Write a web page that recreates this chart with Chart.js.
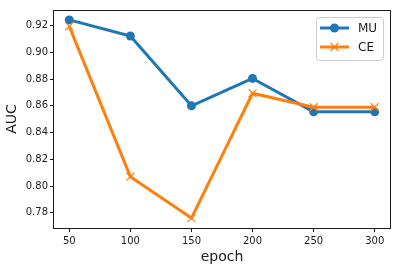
<!DOCTYPE html>
<html>
<head>
<meta charset="utf-8">
<script src="https://cdn.jsdelivr.net/npm/chart.js@4"></script>
<style>
  html, body { margin: 0; padding: 0; background: #fff; }
  #wrap { width: 399px; height: 270px; }
</style>
</head>
<body>
<div id="wrap"><canvas id="aucChart" width="399" height="270"></canvas></div>
<script>
// values
const epochs = [50, 100, 150, 200, 250, 300];
const muAuc = [0.9243, 0.9123, 0.8600, 0.8805, 0.8555, 0.8555];
const ceAuc = [0.9195, 0.8070, 0.7760, 0.8694, 0.8590, 0.8590];
const xTicks = [50, 100, 150, 200, 250, 300];
const yTicks = [0.78, 0.80, 0.82, 0.84, 0.86, 0.88, 0.90, 0.92];
const seriesNames = ['MU', 'CE'];

const BLUE = '#1f77b4';
const ORANGE = '#ff7f0e';
const INK = '#1a1a1a';
const FONT = "'DejaVu Sans', sans-serif";

// matplotlib-style 5% margins
function padded(vals) {
    const lo = Math.min(...vals), hi = Math.max(...vals);
    const m = (hi - lo) * 0.05;
    return [lo - m, hi + m];
}
const [xMin, xMax] = padded(epochs);
const [yMin, yMax] = padded(muAuc.concat(ceAuc));

const toPoints = ys => epochs.map((x, i) => ({ x: x, y: ys[i] }));

// box around the plot + legend inside upper right corner
const framePlugin = {
    id: 'frame',
    afterDatasetsDraw(chart) {
        const ctx = chart.ctx, a = chart.chartArea;
        ctx.save();
        ctx.strokeStyle = INK;
        ctx.lineWidth = 1;
        ctx.strokeRect(Math.round(a.left) - 0.5, Math.round(a.top) + 0.5,
            Math.round(a.right - a.left) + 1, Math.round(a.bottom - a.top));
        ctx.restore();
    },
    afterDraw(chart) {
        const ctx = chart.ctx, a = chart.chartArea;
        const w = 67, h = 43;
        const x0 = a.right - 7 - w, y0 = a.top + 7;
        ctx.save();
        ctx.beginPath();
        ctx.roundRect(x0 + 0.5, y0 + 0.5, w, h, 3);
        ctx.fillStyle = 'rgba(255,255,255,0.8)';
        ctx.fill();
        ctx.strokeStyle = '#cccccc';
        ctx.lineWidth = 1;
        ctx.stroke();

        chart.data.datasets.forEach((ds, i) => {
            const y = y0 + 11 + i * 19;
            ctx.strokeStyle = ds.borderColor;
            ctx.lineWidth = 3;
            ctx.beginPath();
            ctx.moveTo(x0 + 4, y);
            ctx.lineTo(x0 + 33, y);
            ctx.stroke();
            const cx = x0 + 18.5;
            if (ds.pointStyle === 'circle') {
                ctx.fillStyle = ds.borderColor;
                ctx.beginPath();
                ctx.arc(cx, y, 4.5, 0, Math.PI * 2);
                ctx.fill();
            } else {
                ctx.lineWidth = 1.2;
                ctx.beginPath();
                ctx.moveTo(cx - 4, y - 4); ctx.lineTo(cx + 4, y + 4);
                ctx.moveTo(cx - 4, y + 4); ctx.lineTo(cx + 4, y - 4);
                ctx.stroke();
            }
            ctx.fillStyle = INK;
            ctx.font = '12px ' + FONT;
            ctx.textBaseline = 'middle';
            ctx.textAlign = 'left';
            ctx.fillText(ds.label, x0 + 42, y + 0.5);
        });
        ctx.restore();
    }
};

const ctx = document.getElementById('aucChart').getContext('2d');
const aucChart = new Chart(ctx, {
    type: 'line',
    data: {
        datasets: [{
            label: seriesNames[0],
            data: toPoints(muAuc),
            borderColor: BLUE,
            backgroundColor: BLUE,
            borderWidth: 3,
            borderJoinStyle: 'round',
            pointStyle: 'circle',
            pointRadius: 4.5,
            pointBorderWidth: 0,
            pointBackgroundColor: BLUE,
            order: 1
        }, {
            label: seriesNames[1],
            data: toPoints(ceAuc),
            borderColor: ORANGE,
            backgroundColor: ORANGE,
            borderWidth: 3,
            borderJoinStyle: 'round',
            pointStyle: 'crossRot',
            pointRadius: 5.6,
            pointBorderWidth: 1.2,
            pointBorderColor: ORANGE,
            order: 0
        }]
    },
    options: {
        responsive: false,
        animation: false,
        devicePixelRatio: 1,
        layout: { padding: { top: 10, right: 9, left: 0, bottom: 0 } },
        plugins: {
            legend: { display: false },
            tooltip: { enabled: false }
        },
        scales: {
            x: {
                type: 'linear',
                min: xMin,
                max: xMax,
                afterBuildTicks: s => { s.ticks = xTicks.map(v => ({ value: v })); },
                afterFit: s => { s.height = 42; },
                border: { display: false },
                grid: { drawOnChartArea: false, drawTicks: true, tickLength: 4, color: INK, lineWidth: 1 },
                ticks: {
                    color: INK,
                    font: { family: FONT, size: 10 },
                    padding: 3,
                    maxRotation: 0,
                    callback: v => String(v)
                },
                title: {
                    display: true,
                    text: 'epoch',
                    color: INK,
                    font: { family: FONT, size: 14 },
                    padding: { top: 4, bottom: 4.5 }
                }
            },
            y: {
                min: yMin,
                max: yMax,
                afterBuildTicks: s => { s.ticks = yTicks.map(v => ({ value: v })); },
                afterFit: s => { s.width = 54; },
                border: { display: false },
                grid: { drawOnChartArea: false, drawTicks: true, tickLength: 4, color: INK, lineWidth: 1 },
                ticks: {
                    color: INK,
                    font: { family: FONT, size: 10 },
                    padding: 2,
                    callback: v => v.toFixed(2)
                },
                title: {
                    display: true,
                    text: 'AUC',
                    color: INK,
                    font: { family: FONT, size: 14 },
                    padding: { top: 4, bottom: 0 }
                }
            }
        }
    },
    plugins: [framePlugin]
});
</script>
</body>
</html>
